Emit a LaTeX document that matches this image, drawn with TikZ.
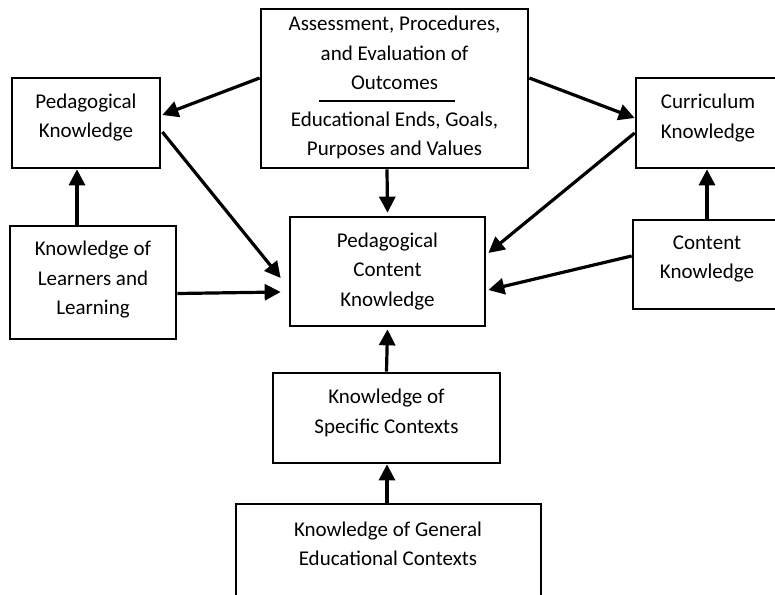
\documentclass[tikz,border=0pt]{standalone}
\usepackage{fontspec}
\setmainfont{Carlito}
\usetikzlibrary{arrows.meta,calc}
\begin{document}
\begin{tikzpicture}[x=1pt,y=-1pt,
  box/.style={draw=black,line width=2.7pt,rectangle,inner sep=0pt},
  txt/.style={align=center,inner sep=0pt,font=\fontsize{21}{29.5}\selectfont,text=black},
  arr/.style={line width=3.2pt,-{Triangle[length=16pt,width=16pt]}}]
\useasboundingbox (0,0) rectangle (775,594);
\clip (0,0) rectangle (775,594);
\fill[white] (0,0) rectangle (775,594);
% boxes
\node[box,minimum width=267pt,minimum height=159pt] (top) at (394.5,88.5) {};
\node[box,minimum width=148pt,minimum height=90pt] (pk) at (86,123) {};
\node[box,minimum width=154pt,minimum height=90pt] (ck) at (713,123) {};
\node[box,minimum width=166pt,minimum height=113pt] (kll) at (93,282.5) {};
\node[box,minimum width=195pt,minimum height=109pt] (pck) at (387.5,271.5) {};
\node[box,minimum width=157pt,minimum height=89pt] (cont) at (711.5,264.5) {};
\node[box,minimum width=227pt,minimum height=90pt] (ksc) at (386.5,418) {};
\node[box,minimum width=305pt,minimum height=106pt] (kgec) at (388.5,557) {};
% texts
\node[txt] (topa) at (394.5,53) {Assessment, Procedures,\\and Evaluation of\\Outcomes};
\node[txt] (topb) at (394.5,135.5) {Educational Ends, Goals,\\Purposes and Values};
\coordinate (r1) at (319,101);
\coordinate (r2) at (455,101);
\draw[line width=2.4pt] (r1) -- (r2);
\node[txt] (pkt) at (86,117.5) {Pedagogical\\Knowledge};
\node[txt] (ckt) at (708,118) {Curriculum\\Knowledge};
\node[txt] (kllt) at (93,280) {Knowledge of\\Learners and\\Learning};
\node[txt] (pckt) at (387.5,271.5) {Pedagogical\\Content\\Knowledge};
\node[txt] (contt) at (707,259) {Content\\Knowledge};
\node[txt] (kslt) at (386.5,413) {Knowledge of\\Specific Contexts};
\node[txt] (kgect) at (388,544) {Knowledge of General\\Educational Contexts};
% arrows
\draw[arr] ($(top.west)+(0,-10.5)$) -- ($(pk.east)+(1,-8)$);
\draw[arr] ($(top.east)+(0,-10.5)$) -- ($(ck.west)+(0,-5)$);
\draw[arr] ($(top.south)+(-7.5,0)$) -- ($(pck.north)+(0,-3)$);
\draw[arr] ($(pk.east)+(1,9)$) -- ($(pck.west)+(-8,6.5)$);
\draw[arr] ($(kll.north)+(-16,0)$) -- ($(pk.south)+(-9,0)$);
\draw[arr] ($(kll.east)+(0,11)$) -- ($(pck.west)+(-8,20.5)$);
\draw[arr] ($(ck.west)+(0,10)$) -- ($(pck.east)+(2,-18.5)$);
\draw[arr] ($(cont.west)+(0,-8.5)$) -- ($(pck.east)+(2,18.5)$);
\draw[arr] ($(cont.north)+(-4.5,0)$) -- ($(ck.south)+(-6,0)$);
\draw[arr] (ksc.north) -- ($(pck.south)+(0,2)$);
\draw[arr] ($(kgec.north)+(-1.5,0)$) -- ($(ksc.south)+(0.5,0)$);
\end{tikzpicture}
\end{document}
